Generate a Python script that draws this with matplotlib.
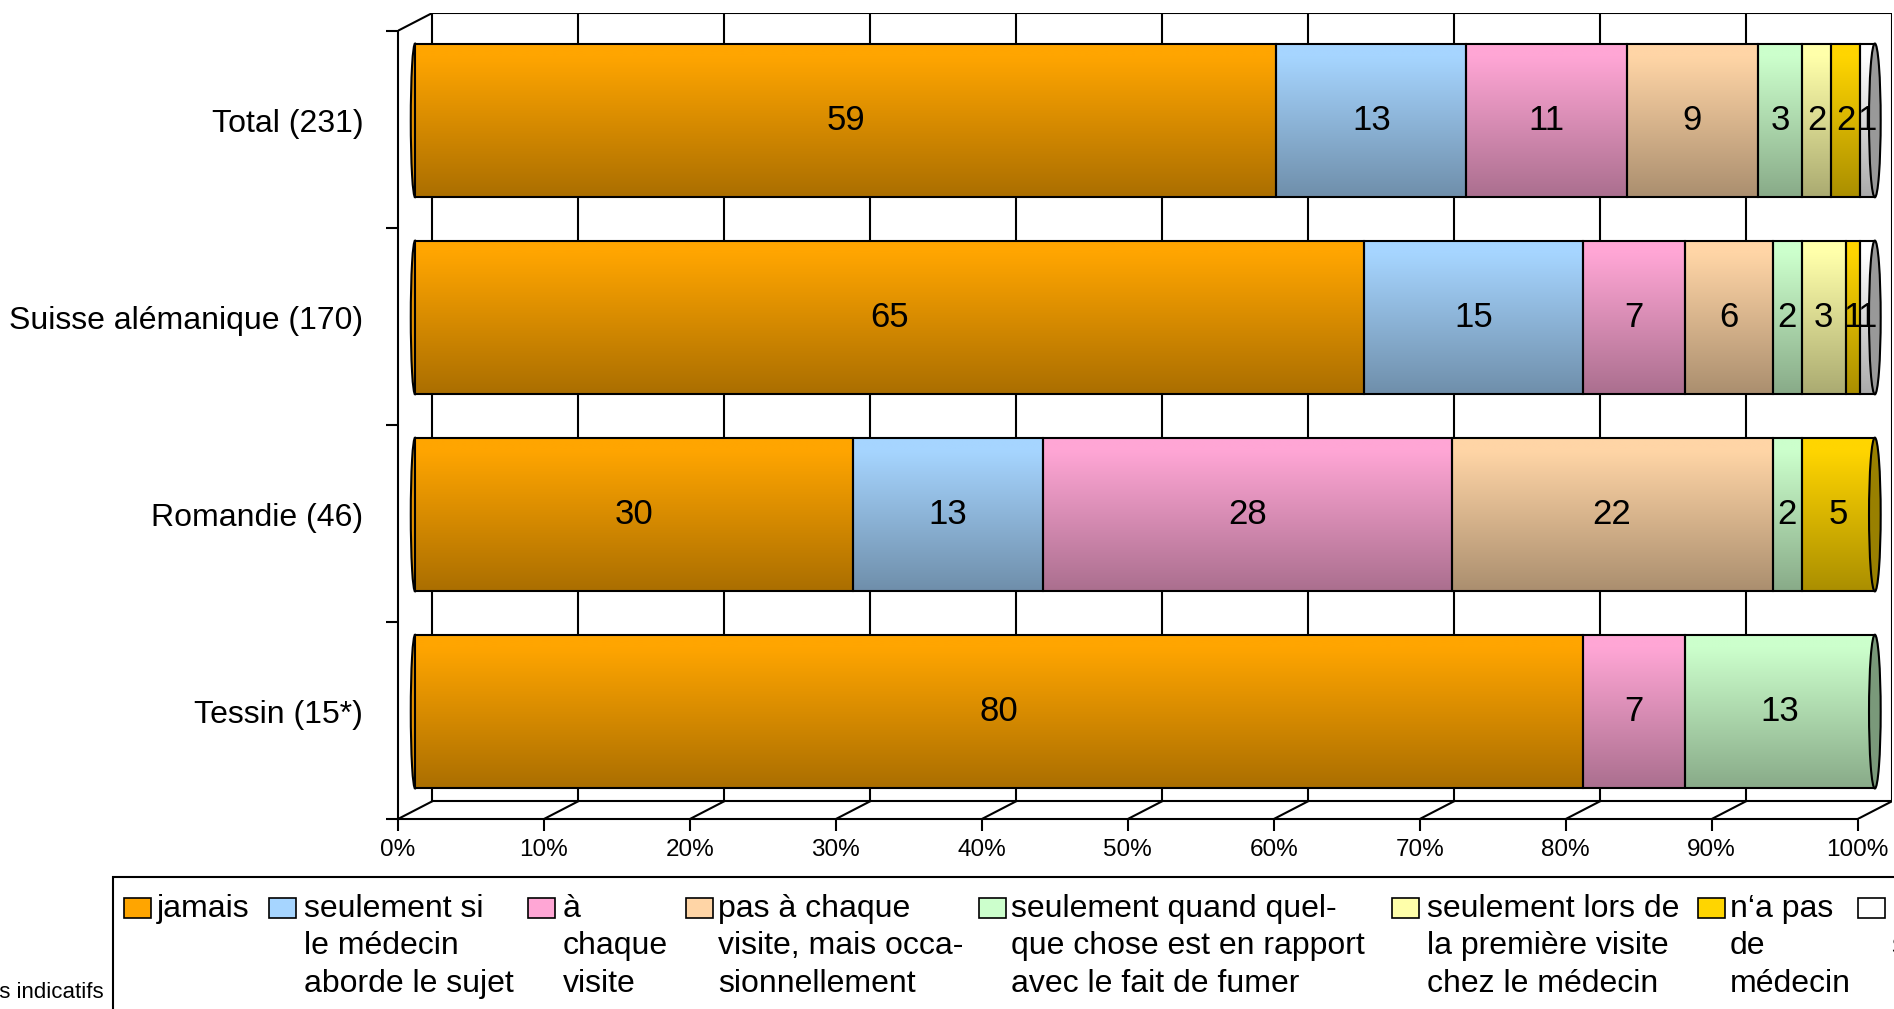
import numpy as np
import matplotlib.pyplot as plt
from matplotlib.patches import Rectangle, Ellipse

plt.rcParams['font.family'] = ['Liberation Sans', 'DejaVu Sans']

# data (percent per region)
categories = ["Total (231)", "Suisse alémanique (170)", "Romandie (46)", "Tessin (15*)"]
series_labels = ["jamais",
                 "seulement si\nle médecin\naborde le sujet",
                 "à\nchaque\nvisite",
                 "pas à chaque\nvisite, mais occa-\nsionnellement",
                 "seulement quand quel-\nque chose est en rapport\navec le fait de fumer",
                 "seulement lors de\nla première visite\nchez le médecin",
                 "n‘a pas\nde\nmédecin",
                 "ne sait pas /\nsans réponse"]
jamais = [59, 65, 30, 80]
seulement_si = [13, 15, 13, 0]
chaque_visite = [11, 7, 28, 7]
occasionnellement = [9, 6, 22, 0]
quand_fumer = [3, 2, 2, 13]
premiere_visite = [2, 3, 0, 0]
pas_medecin = [2, 1, 5, 0]
sans_reponse = [1, 1, 0, 0]
series = [jamais, seulement_si, chaque_visite, occasionnellement,
          quand_fumer, premiere_visite, pas_medecin, sans_reponse]
colors = ["#FFA500", "#A6D5FF", "#FFA6D5", "#FFD5A6",
          "#CCFFCC", "#FFFFAA", "#FFD500", "#FFFFFF"]

W, H = 1894, 1009
fig = plt.figure(figsize=(W / 100, H / 100), dpi=100)
ax = fig.add_axes([398 / W, (H - 819) / H, 1494 / W, 806 / H])
D = 2.35    # depth in x (percent units)
DY = 0.09   # depth in y (category units)
ax.set_xlim(0, 102.35)
ax.set_ylim(3.5, -0.59)

lw = 1.5
# back wall, grid and floor
for v in range(0, 101, 10):
    ax.plot([v + D, v + D], [-0.5 - DY, 3.5 - DY], color="black", lw=lw, zorder=1)
    ax.plot([v, v + D], [3.5, 3.5 - DY], color="black", lw=lw, zorder=1)
ax.plot([D, 100 + D], [-0.5 - DY, -0.5 - DY], color="black", lw=lw, zorder=1)
ax.plot([D, 100 + D], [3.5 - DY, 3.5 - DY], color="black", lw=lw, zorder=1)
ax.plot([0, D], [-0.5, -0.5 - DY], color="black", lw=lw, zorder=1)


def to_rgb(c):
    return np.array([int(c[i:i + 2], 16) / 255 for i in (1, 3, 5)])


t = np.linspace(0, 1, 80)
shade = np.clip(1.03 - 0.36 * t, 0, 1)

bar_h = 0.78
for i in range(len(categories)):
    yc = i - DY / 2
    left = 0
    drawn = []
    for k, vals in enumerate(series):
        v = vals[i]
        if v == 0:
            continue
        x0 = left + D / 2
        base = to_rgb(colors[k])
        grad = np.clip(base[None, :] * shade[:, None], 0, 1)[:, None, :]
        ax.imshow(grad, extent=(x0, x0 + v, yc + bar_h / 2, yc - bar_h / 2),
                  origin="upper", aspect="auto", zorder=3, interpolation="bilinear")
        ax.add_patch(Rectangle((x0, yc - bar_h / 2), v, bar_h, fill=False,
                               edgecolor="black", lw=lw, zorder=4))
        ax.text(x0 + v / 2, yc, str(v), ha="center", va="center",
                fontsize=25, zorder=6)
        drawn.append((k, x0, x0 + v))
        left += v
    # rounded ends of the cylinder
    k0, x0, _ = drawn[0]
    ax.add_patch(Ellipse((x0, yc), 0.6, bar_h, facecolor=to_rgb(colors[k0]) * 0.88,
                         edgecolor="black", lw=lw, zorder=2))
    k1, _, x1 = drawn[-1]
    ax.add_patch(Ellipse((x1, yc), 0.8, bar_h, facecolor=to_rgb(colors[k1]) * 0.6,
                         edgecolor="black", lw=lw, zorder=5))

ax.set_xticks(range(0, 101, 10))
ax.set_xticklabels([f"{v}%" for v in range(0, 101, 10)])
ax.tick_params(axis="x", direction="out", length=8.6, width=lw, pad=6, labelsize=17.5)
ax.set_yticks([i - DY / 2 for i in range(len(categories))])
ax.set_yticklabels(categories)
ax.tick_params(axis="y", which="major", length=0, pad=25, labelsize=23)
ax.set_yticks([-0.5, 0.5, 1.5, 2.5, 3.5], minor=True)
ax.tick_params(axis="y", which="minor", length=8.6, width=lw, direction="out")
ax.spines["top"].set_visible(False)
ax.spines["right"].set_visible(False)
ax.spines["left"].set_bounds(-0.5, 3.5)
ax.spines["bottom"].set_bounds(0, 100)
ax.spines["left"].set_linewidth(lw)
ax.spines["bottom"].set_linewidth(lw)

# legend drawn by hand, Excel-like wrapped columns
fig.add_artist(Rectangle((113 / W, -0.1), 1.0, (H - 877) / H + 0.1,
                         transform=fig.transFigure, fill=False, lw=lw))
patch_x = [124, 269, 528, 686, 979, 1392, 1698, 1858]
text_x = [157, 304, 563, 718, 1011, 1427, 1730, 1892]
for k, lab in enumerate(series_labels):
    fig.add_artist(Rectangle((patch_x[k] / W, 1 - 918 / H), 27 / W, 20 / H,
                             transform=fig.transFigure, facecolor=colors[k],
                             edgecolor="black", lw=1.2))
    fig.text(text_x[k] / W, 1 - 894 / H, lab, ha="left", va="top",
             fontsize=23, linespacing=1.32)

fig.text(104 / W, 1 - 993 / H, "* chiffres indicatifs", ha="right", va="center", fontsize=16)

fig.savefig("out.png", dpi=100)
